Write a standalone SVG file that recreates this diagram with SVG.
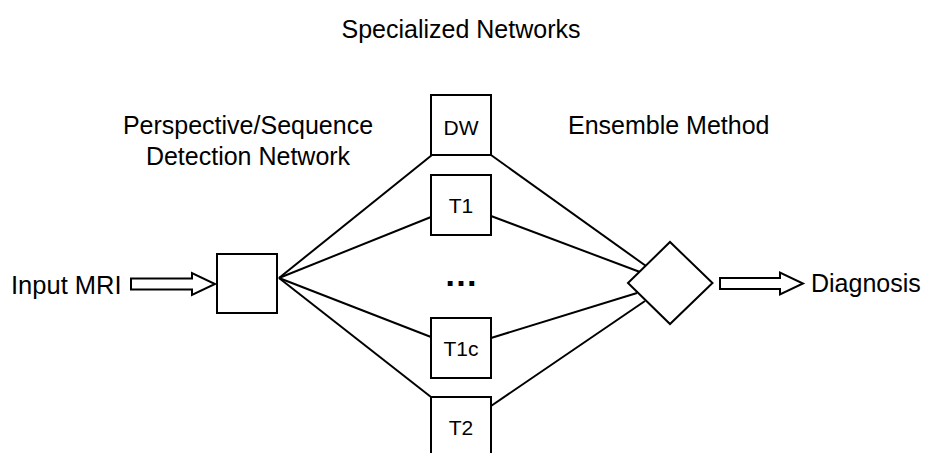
<svg xmlns="http://www.w3.org/2000/svg" width="932" height="453" viewBox="0 0 932 453">
<style>
.box{fill:#fff;stroke:#000;stroke-width:2}
.ln{stroke:#000;stroke-width:2;fill:none}
.arr{fill:#fff;stroke:#000;stroke-width:2;stroke-linejoin:miter}
.lbl{font-family:"Liberation Sans",Arial,sans-serif;font-size:25px;fill:#000}
.nl{font-family:"Liberation Sans",Arial,sans-serif;font-size:21px;fill:#000;text-anchor:middle}
</style>
<rect width="932" height="453" fill="#fff"/>
<g id="connectors">
<line class="ln" x1="279" y1="278" x2="432" y2="155"/>
<line class="ln" x1="279" y1="278" x2="431" y2="217"/>
<line class="ln" x1="279" y1="278" x2="431" y2="337"/>
<line class="ln" x1="279" y1="278" x2="431" y2="397"/>
<line class="ln" x1="491" y1="155" x2="646" y2="266"/>
<line class="ln" x1="491" y1="216" x2="640" y2="272"/>
<line class="ln" x1="491" y1="338" x2="637" y2="293"/>
<line class="ln" x1="491" y1="406" x2="645" y2="301"/>
<polygon class="arr" points="131,278.5 192,278.5 192,273 215,284 192,295 192,289.5 131,289.5"/>
<polygon class="arr" points="720,278 780,278 780,272.5 803,283.5 780,294.5 780,289 720,289"/>
</g>
<g id="title"><text class="lbl" x="461" y="38" text-anchor="middle">Specialized Networks</text></g>
<g id="input-label"><text class="lbl" x="11" y="294" style="font-size:25.5px">Input MRI</text></g>
<g id="detector">
<rect class="box" x="217" y="254" width="60" height="59"/>
<text class="lbl" x="248" y="134" text-anchor="middle">Perspective/Sequence</text>
<text class="lbl" x="248" y="165" text-anchor="middle">Detection Network</text>
</g>
<g id="dw"><rect class="box" x="431" y="95" width="60" height="60"/><text class="nl" x="461" y="135">DW</text></g>
<g id="t1"><rect class="box" x="431" y="175" width="60" height="60"/><text class="nl" x="461" y="213">T1</text></g>
<g id="dots"><text x="461" y="286" text-anchor="middle" style="font-family:'Liberation Sans',Arial,sans-serif;font-size:34px;font-weight:bold">…</text></g>
<g id="t1c"><rect class="box" x="431" y="318" width="60" height="60"/><text class="nl" x="461" y="356">T1c</text></g>
<g id="t2"><rect class="box" x="431" y="397" width="60" height="60"/><text class="nl" x="461" y="435">T2</text></g>
<g id="ensemble">
<polygon class="box" points="628,283 670,242 712.5,283 670,324"/>
<text class="lbl" x="568" y="134">Ensemble Method</text>
</g>
<g id="output-label"><text class="lbl" x="811" y="292">Diagnosis</text></g>
</svg>
